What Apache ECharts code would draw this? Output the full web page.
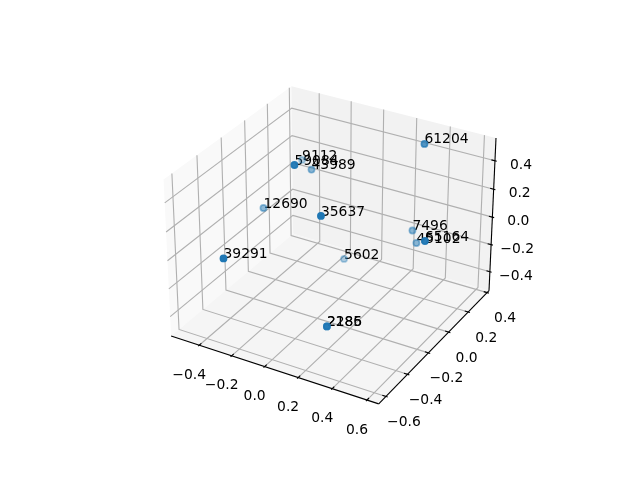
<!DOCTYPE html>
<html><head><meta charset="utf-8">
<style>html,body{margin:0;padding:0;background:#fff}#c{width:640px;height:480px}</style>
<script src="https://cdn.jsdelivr.net/npm/echarts@6/dist/echarts.min.js"></script></head><body>
<div id="c"></div>
<script>
const labels=['9112','59084','43989','12690','35637','61204','7496','45102','65164','5602','39291','2185','2286'];
const xValues=[-0.434,-0.107,-0.268,-0.440,0.101,0.346,0.283,0.318,0.566,-0.073,-0.273,0.166,0.166];
const yValues=[0.306,-0.235,0.150,-0.040,-0.313,0.256,0.263,0.247,-0.091,0.162,-0.610,-0.360,-0.360];
const zValues=[0.134,0.535,0.213,0.002,0.304,0.519,-0.121,-0.190,0.139,-0.385,0.084,-0.420,-0.420];
const xLim=[-0.576,0.667],yLim=[-0.665,0.42],zLim=[-0.542,0.558];
const xTicks=[-0.4,-0.2,0,0.2,0.4,0.6],yTicks=[-0.6,-0.4,-0.2,0,0.2,0.4],zTicks=[-0.4,-0.2,0,0.2,0.4];
const B=[1.1905,1.1905,0.8929],R=B.map(v=>v/2),D=10;
const el=30*Math.PI/180,az=-60*Math.PI/180;
const w=[Math.cos(el)*Math.cos(az),Math.cos(el)*Math.sin(az),Math.sin(el)];
const eye=R.map((r,i)=>r+D*w[i]);
const cross=(a,b)=>[a[1]*b[2]-a[2]*b[1],a[2]*b[0]-a[0]*b[2],a[0]*b[1]-a[1]*b[0]];
const nrm=a=>{const n=Math.hypot(...a);return a.map(v=>v/n)};
const dot=(a,b)=>a[0]*b[0]+a[1]*b[1]+a[2]*b[2];
const u=nrm(cross([0,0,1],w)),v=cross(w,u);
const lims=[xLim,yLim,zLim];
function proj(x,y,z){const p=[x,y,z].map((t,i)=>(t-lims[i][0])/(lims[i][1]-lims[i][0])*B[i]-eye[i]);
 const vz=dot(w,p);return [dot(u,p)/-vz,dot(v,p)/-vz,vz];}
const F='13.89px "DejaVu Sans"';
const lines=[];const [x0,x1]=xLim,[y0,y1]=yLim,[z0,z1]=zLim;
xTicks.forEach(t=>{lines.push([[t,y0,z0],[t,y1,z0],[t,y1,z1]])});
yTicks.forEach(t=>{lines.push([[x1,t,z0],[x0,t,z0],[x0,t,z1]])});
zTicks.forEach(t=>{lines.push([[x0,y0,t],[x0,y1,t],[x1,y1,t]])});
const axes=[[[x0,y0,z0],[x1,y0,z0]],[[x1,y0,z0],[x1,y1,z0]],[[x1,y1,z0],[x1,y1,z1]]];
const panes=[
 [[[x0,y0,z0],[x0,y1,z0],[x0,y1,z1],[x0,y0,z1]],'#f9f9f9'],
 [[[x0,y1,z0],[x1,y1,z0],[x1,y1,z1],[x0,y1,z1]],'#f2f2f2'],
 [[[x0,y0,z0],[x1,y0,z0],[x1,y1,z0],[x0,y1,z0]],'#f5f5f5']];
const dx=x1-x0,dy=y1-y0;
const ticks=[],tl=[];
const fmt=t=>(t<0?'\u2212':'')+Math.abs(t).toFixed(1);
xTicks.forEach(t=>{ticks.push([[t,y0-dy/120,z0],[t,y0+dy/60,z0]]);tl.push([[t,y0,z0],fmt(t),-10,30])});
yTicks.forEach(t=>{ticks.push([[x1+dx/120,t,z0],[x1-dx/60,t,z0]]);tl.push([[x1,t,z0],fmt(t),18,26])});
zTicks.forEach(t=>{ticks.push([[x1+dx/120,y1,t],[x1-dx/60,y1,t]]);tl.push([[x1,y1,t],fmt(t),26,4.5])});
const P=p=>{const r=proj(...p);return [r[0],r[1]]};
function staticSeries(){return {type:'custom',coordinateSystem:'cartesian2d',clip:false,silent:true,data:[[0,0]],
 renderItem(par,api){const c=p=>api.coord(P(p));const ch=[];
  panes.forEach(([q,f])=>ch.push({type:'polygon',shape:{points:q.map(c)},style:{fill:f,stroke:null}}));
  lines.forEach(l=>ch.push({type:'polyline',shape:{points:l.map(c)},style:{fill:null,stroke:'#b0b0b0',lineWidth:1.11}}));
  axes.concat(ticks).forEach(l=>ch.push({type:'polyline',shape:{points:l.map(c)},style:{fill:null,stroke:'#000',lineWidth:1.11}}));
  tl.forEach(([p,s,ox,oy])=>{const q=c(p);ch.push({type:'text',style:{x:q[0]+ox,y:q[1]+oy,text:s,font:F,fill:'#000',align:'center',verticalAlign:'middle'}})});
  return {type:'group',children:ch};}};}
const pr=labels.map((l,i)=>({p:proj(xValues[i],yValues[i],zValues[i]),l}));
const ds=pr.map(o=>o.p[2]);const mn=Math.min(...ds),mx=Math.max(...ds);
const data=pr.map(o=>({value:[o.p[0],o.p[1]],a:1-(mx-o.p[2])/(mx-mn)*0.7,d:o.p[2]})).sort((a,b)=>a.d-b.d)
 .map(o=>({value:o.value,itemStyle:{opacity:o.a}}));
const ch=echarts.init(document.getElementById('c'),null,{renderer:'canvas'});
ch.setOption({animation:false,
 grid:{left:143.2,top:57.6,width:369.6,height:369.6},
 xAxis:{type:'value',min:-0.095,max:0.09,show:false},
 yAxis:{type:'value',min:-0.095,max:0.09,show:false},
 series:[staticSeries(),
 {type:'scatter',clip:false,silent:true,symbolSize:6.2,data,itemStyle:{color:'#1f77b4',borderColor:'#1f77b4',borderWidth:1.6}},
 {type:'custom',coordinateSystem:'cartesian2d',clip:false,silent:true,data:pr.map(o=>[o.p[0],o.p[1]]),
  renderItem(par,api){const q=api.coord([api.value(0),api.value(1)]);
   return {type:'text',style:{x:q[0],y:q[1]-4,text:labels[par.dataIndex],font:F,fill:'#000',align:'left',verticalAlign:'middle'}}}}
 ]});
</script></body></html>
